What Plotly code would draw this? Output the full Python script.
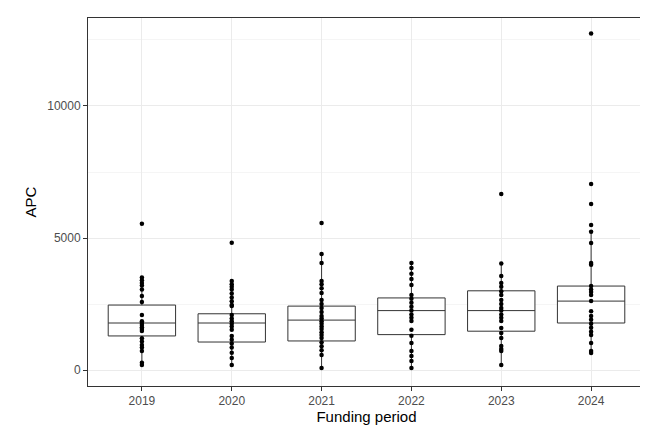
import plotly.graph_objects as go

periods = ["2019", "2020", "2021", "2022", "2023", "2024"]

# box statistics
q1 = [1290, 1060, 1100, 1340, 1470, 1780]
median = [1780, 1780, 1890, 2250, 2250, 2610]
q3 = [2460, 2130, 2420, 2730, 3000, 3180]
lowerfence = [190, 190, 80, 80, 190, 640]
upperfence = [3500, 3370, 4390, 4050, 4030, 5240]

# individual APC values per period
apc = {
    "2019": [5540, 3500, 3400, 3300, 3200, 3050, 2800, 2580, 2080, 1850, 1780, 1700, 1620,
             1550, 1480, 1200, 1080, 950, 850, 720, 270, 190],
    "2020": [4820, 3370, 3250, 3150, 3050, 2900, 2750, 2600, 2460, 2420, 2080, 1950, 1850,
             1750, 1650, 1520, 1290, 1150, 1000, 850, 650, 450, 190],
    "2021": [5570, 4390, 4050, 3370, 3250, 3100, 2920, 2650, 2500, 2350, 2200, 2050, 1950,
             1850, 1750, 1650, 1550, 1430, 1330, 1210, 1050, 900, 750, 570, 80],
    "2022": [4050, 3860, 3650, 3450, 3220, 2840, 2700, 2550, 2400, 2250, 2100, 1980, 1860,
             1520, 1300, 1020, 720, 530, 340, 80],
    "2023": [6670, 4030, 3560, 3300, 3150, 2980, 2840, 2650, 2500, 2350, 2250, 2100, 1980,
             1860, 1590, 1400, 1210, 910, 800, 720, 190],
    "2024": [12750, 7050, 6290, 5490, 5240, 4810, 4050, 3990, 3180, 3050, 2950, 2840, 2610,
             2230, 2050, 1900, 1750, 1600, 1450, 1330, 1020, 720, 640],
}
yticks = [0, 5000, 10000]

xs = list(range(len(periods)))

fig = go.Figure()
fig.add_trace(go.Box(
    x=xs, q1=q1, median=median, q3=q3, lowerfence=lowerfence, upperfence=upperfence,
    width=0.75, whiskerwidth=0, fillcolor="white", line=dict(color="#333333", width=1),
    boxpoints=False, showlegend=False, hoverinfo="skip",
))

px_, py_ = [], []
for i, p in enumerate(periods):
    px_ += [i] * len(apc[p])
    py_ += apc[p]
fig.add_trace(go.Scatter(x=px_, y=py_, mode="markers",
                         marker=dict(color="black", size=4.5), showlegend=False))

fig.update_layout(
    width=648, height=432,
    margin=dict(l=80, r=11, t=10, b=54),
    plot_bgcolor="white", paper_bgcolor="white",
    font=dict(family="Liberation Sans, Arial, sans-serif"),
)
fig.update_xaxes(
    automargin=False,
    range=[-0.6, 5.6], tickvals=xs, ticktext=periods,
    showgrid=True, gridcolor="#ebebeb", gridwidth=1.2, zeroline=False,
    ticks="outside", ticklen=4, tickcolor="#333333",
    tickfont=dict(size=12, color="#4d4d4d"),
    title=dict(text="Funding period", font=dict(size=15, color="black"), standoff=4),
    showline=True, linecolor="#333333", mirror=True,
)
fig.update_yaxes(
    automargin=False,
    range=[-606, 13333], tickvals=yticks, ticktext=[str(v) for v in yticks],
    showgrid=True, gridcolor="#ebebeb", gridwidth=1.2, zeroline=False,
    minor=dict(tickvals=[2500, 7500, 12500], showgrid=True, gridcolor="#f5f5f5", gridwidth=0.6),
    ticks="outside", ticklen=4, tickcolor="#333333",
    tickfont=dict(size=12, color="#4d4d4d"),
    title=dict(text="APC", font=dict(size=15, color="black"), standoff=6),
    showline=True, linecolor="#333333", mirror=True,
)

fig.write_html("out.html")
